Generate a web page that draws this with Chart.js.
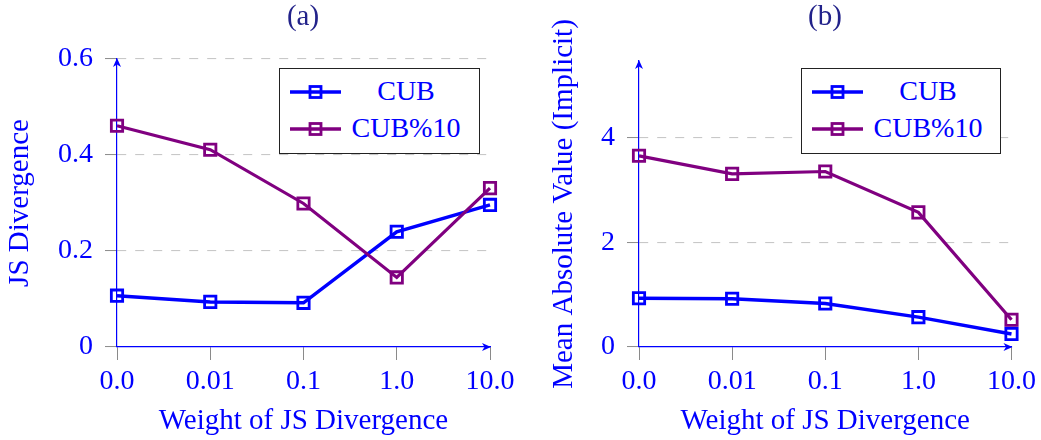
<!DOCTYPE html>
<html>
<head>
<meta charset="utf-8">
<script src="https://cdn.jsdelivr.net/npm/chart.js@4.4.1/dist/chart.umd.min.js"></script>
<style>
html,body{margin:0;padding:0;background:#fff;width:1041px;height:440px;overflow:hidden;}
body{position:relative;font-family:'Liberation Serif','Times New Roman',serif;}
.panel{position:absolute;top:0;height:440px;}
.ttl{position:absolute;top:1px;font-size:29px;line-height:29px;color:#22228a;transform:translateX(-50%);white-space:nowrap;}
.legend{position:absolute;box-sizing:border-box;border:1px solid #222;background:#fff;}
.legend svg{position:absolute;overflow:visible;}
.legend span{position:absolute;font-size:28px;line-height:28px;color:#0000ff;text-align:center;white-space:nowrap;}
</style>
</head>
<body>
<canvas id="ca" class="panel" style="left:0" width="520" height="440"></canvas>
<canvas id="cb" class="panel" style="left:520px" width="521" height="440"></canvas>
<div class="ttl" id="ta" style="left:303px"></div>
<div class="ttl" id="tb" style="left:825px"></div>
<div class="legend" id="la" style="left:279px;top:68px;width:201px;height:86px"></div>
<div class="legend" id="lb" style="left:801px;top:68px;width:200px;height:86px"></div>
<script>
// ---- data ----
const categories = ['0.0', '0.01', '0.1', '1.0', '10.0'];
const seriesNames = ['CUB', 'CUB%10'];
const jsCub = [0.107, 0.094, 0.092, 0.240, 0.296];
const jsCub10 = [0.461, 0.411, 0.299, 0.145, 0.331];
const mavCub = [0.93, 0.92, 0.83, 0.57, 0.25];
const mavCub10 = [3.65, 3.305, 3.35, 2.57, 0.52];
const yTicksA = [0, 0.2, 0.4, 0.6];
const yTicksB = [0, 2, 4];
const titles = ['(a)', '(b)'];
const xLabel = 'Weight of JS Divergence';
const yLabels = ['JS Divergence', 'Mean Absolute Value (Implicit)'];

// ---- style ----
const BLUE = '#0000ff';
const PURPLE = '#800080';
const GRID = '#c8c8c8';
const TICKC = '#8a8a8a';
const FONT = "'Liberation Serif', 'Times New Roman', serif";

const axisArrows = {
  id: 'axisArrows',
  afterDatasetsDraw(chart) {
    const {ctx, chartArea: {left, right, top, bottom}} = chart;
    ctx.save();
    ctx.setLineDash([]);
    ctx.fillStyle = BLUE;
    ctx.beginPath();
    ctx.moveTo(right + 1, bottom);
    ctx.lineTo(right - 8, bottom - 4);
    ctx.lineTo(right - 5.5, bottom);
    ctx.lineTo(right - 8, bottom + 4);
    ctx.closePath();
    ctx.fill();
    ctx.beginPath();
    ctx.moveTo(left, top - 1);
    ctx.lineTo(left - 4, top + 8);
    ctx.lineTo(left, top + 5.5);
    ctx.lineTo(left + 4, top + 8);
    ctx.closePath();
    ctx.fill();
    ctx.restore();
  }
};

function makeChart(id, d1, d2, yMax, yTicks, yTitle, yW, yTitlePad, rightPad, topPad) {
  const ds = (label, data, color, bw, order) => ({
    label, data, borderColor: color, backgroundColor: color,
    borderWidth: bw, pointStyle: 'rect', pointRadius: 8, pointHoverRadius: 8,
    pointBorderWidth: 2.8, pointBackgroundColor: 'rgba(0,0,0,0)', pointBorderColor: color,
    tension: 0, clip: false, order
  });
  return new Chart(document.getElementById(id), {
    type: 'line',
    data: {
      labels: categories,
      datasets: [ds(seriesNames[0], d1, BLUE, 3.5, 1), ds(seriesNames[1], d2, PURPLE, 3.2, 0)]
    },
    options: {
      responsive: false, animation: false, devicePixelRatio: 1,
      layout: {padding: {left: 0, right: rightPad, top: topPad, bottom: 0}},
      plugins: {legend: {display: false}, tooltip: {enabled: false}, title: {display: false}},
      scales: {
        x: {
          type: 'category', offset: false,
          grid: {display: true, drawOnChartArea: false, drawTicks: true, tickLength: 13, tickColor: TICKC, tickWidth: 1, tickBorderDash: []},
          border: {display: true, color: BLUE, width: 1.2},
          ticks: {color: BLUE, font: {family: FONT, size: 28}, padding: 5, maxRotation: 0, autoSkip: false},
          title: {display: true, text: xLabel, color: BLUE, font: {family: FONT, size: 29}, padding: {top: 0, bottom: 1}},
          afterFit(s) { s.height = 93; }
        },
        y: {
          type: 'linear', min: 0, max: yMax,
          afterBuildTicks(s) { s.ticks = yTicks.map(v => ({value: v})); },
          grid: {
            color: c => (c.tick && c.tick.value === 0) ? 'rgba(0,0,0,0)' : GRID,
            lineWidth: 1.1, tickBorderDash: [], tickLength: 12, tickColor: TICKC, tickWidth: 1
          },
          border: {display: true, color: BLUE, width: 1.2, dash: [9, 9]},
          ticks: {color: BLUE, font: {family: FONT, size: 28}, padding: 12, callback: v => String(v)},
          title: {display: true, text: yTitle, color: BLUE, font: {family: FONT, size: 29}, padding: {top: yTitlePad, bottom: 0}},
          afterFit(s) { s.width = yW; }
        }
      }
    },
    plugins: [axisArrows]
  });
}

makeChart('ca', jsCub, jsCub10, 0.6, yTicksA, yLabels[0], 117, 2.6, 30, 59);
makeChart('cb', mavCub, mavCub10, 5.46, yTicksB, yLabels[1], 119, 26.6, 29, 61);

document.getElementById('ta').textContent = titles[0];
document.getElementById('tb').textContent = titles[1];

function buildLegend(id) {
  const box = document.getElementById(id);
  const colors = [BLUE, PURPLE];
  const rowCenters = [22.7, 60];
  const textTops = [7.6, 44.6];
  seriesNames.forEach((name, i) => {
    const ns = 'http://www.w3.org/2000/svg';
    const svg = document.createElementNS(ns, 'svg');
    svg.setAttribute('width', '51'); svg.setAttribute('height', '20');
    svg.style.left = '10px'; svg.style.top = (rowCenters[i] - 10) + 'px';
    const ln = document.createElementNS(ns, 'line');
    ln.setAttribute('x1', '0'); ln.setAttribute('x2', '51'); ln.setAttribute('y1', '10'); ln.setAttribute('y2', '10');
    ln.setAttribute('stroke', colors[i]); ln.setAttribute('stroke-width', '3.4');
    const rc = document.createElementNS(ns, 'rect');
    rc.setAttribute('x', String(25.5 - 5.5)); rc.setAttribute('y', String(10 - 5.5));
    rc.setAttribute('width', '11'); rc.setAttribute('height', '11');
    rc.setAttribute('fill', 'none'); rc.setAttribute('stroke', colors[i]); rc.setAttribute('stroke-width', '2.8');
    svg.appendChild(ln); svg.appendChild(rc);
    box.appendChild(svg);
    const sp = document.createElement('span');
    sp.textContent = name;
    sp.style.left = '69px'; sp.style.width = '114px'; sp.style.top = textTops[i] + 'px';
    box.appendChild(sp);
  });
}
buildLegend('la');
buildLegend('lb');
</script>
</body>
</html>
